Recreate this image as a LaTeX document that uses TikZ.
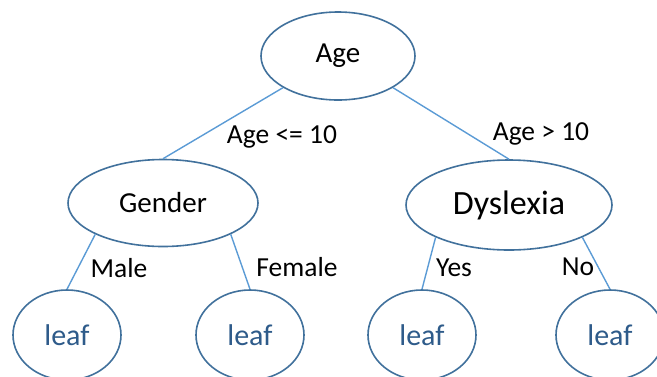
\documentclass[tikz,border=0pt]{standalone}
\usepackage{fontspec}
\setmainfont{Carlito}
\usetikzlibrary{shapes.geometric, positioning}
\definecolor{ovalline}{HTML}{41719C}
\definecolor{edgeline}{HTML}{5B9BD5}
\definecolor{leaftext}{HTML}{2E5B8A}

\begin{document}
\begin{tikzpicture}[x=1pt, y=-1pt,
  oval/.style={ellipse, draw=ovalline, line width=1.6pt, inner sep=0pt, fill=white},
  branch/.style={draw=edgeline, line width=1.4pt},
  cond/.style={font=\fontsize{27.5}{30}\selectfont, text=black}]
\useasboundingbox (0,0) rectangle (657,376);
% decision nodes
\node[oval, minimum width=154pt, minimum height=88pt, font=\fontsize{29}{31}\selectfont] (age) at (338,56) {Age};
\node[oval, minimum width=190pt, minimum height=87pt, font=\fontsize{29}{31}\selectfont] (gender) at (163,203) {Gender};
\node[oval, minimum width=206pt, minimum height=90pt, font=\fontsize{34}{36}\selectfont] (dyslexia) at (509,205) {Dyslexia};
% leaves
\foreach \n/\x in {leafa/67, leafb/250, leafc/422, leafd/610}{
  \node[oval, minimum width=108pt, minimum height=90pt, text=leaftext, font=\fontsize{30}{32}\selectfont] (\n) at (\x,335) {leaf};
}
% branches
\draw[branch] (age.south west) -- (gender.north);
\draw[branch] (age.south east) -- (dyslexia.north);
\draw[branch] (gender.south west) -- (leafa.north);
\draw[branch] (gender.south east) -- (leafb.north);
\draw[branch] (dyslexia.south west) -- (leafc.north);
\draw[branch] (dyslexia.south east) -- (leafd.north);
% branch conditions
\node[cond] (agelow) at (282,137) {Age <= 10};
\node[cond] (agehigh) at (541,134) {Age > 10};
\node[cond] (male) at (119,268) {Male};
\node[cond] (female) at (297,267) {Female};
\node[cond] (yes) at (454,268) {Yes};
\node[cond] (no) at (578,267) {No};
\end{tikzpicture}
\end{document}
